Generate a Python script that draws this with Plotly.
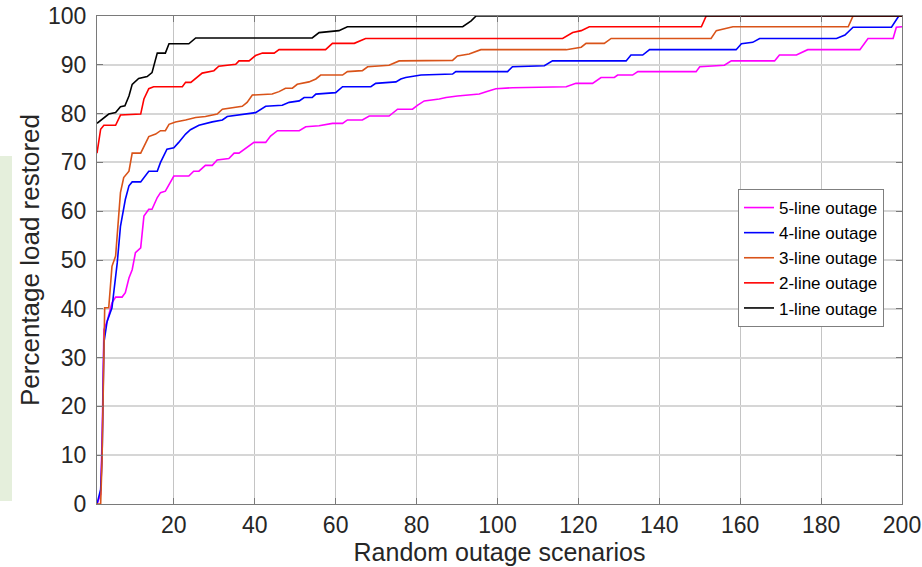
import plotly.graph_objects as go

# ---- data ----
x_5 = [1, 1.9, 2.3, 2.7, 3.5, 4.7, 5.6, 7.2, 8.0, 8.9, 9.7, 10.5, 11.8, 12.6, 13.8, 14.6, 15.9, 16.7, 17.9, 18.8,
       20.0, 23.7, 24.9, 26.2, 27.8, 29.5, 30.7, 33.6, 34.9, 36.1, 37.7, 39.8, 42.7, 43.9, 45.6, 51.0, 52.6, 55.9,
       59.2, 61.7, 62.9, 66.6, 68.3, 73.2, 75.3, 79.0, 80.2, 81.9, 85.6, 87.3, 90.1, 95.5, 97.2, 99.6, 103.7, 117.0,
       119.4, 123.5, 125.6, 128.9, 129.7, 133.4, 134.7, 149.1, 150.0, 156.1, 157.8, 168.5, 169.7, 173.9, 176.7,
       189.6, 191.6, 197.8, 198.6, 200]
y_5 = [0, 2, 15, 35.7, 37.4, 41.2, 42.4, 42.4, 43.3, 46.3, 48.0, 51.5, 52.5, 59.0, 60.4, 60.4, 62.8, 63.8, 64.1, 65.5,
       67.2, 67.2, 68.2, 68.2, 69.4, 69.4, 70.5, 70.8, 71.9, 71.9, 72.9, 74.1, 74.1, 75.4, 76.5, 76.5, 77.3, 77.5,
       78.0, 78.0, 78.7, 78.7, 79.5, 79.5, 80.9, 80.9, 81.7, 82.6, 83.0, 83.3, 83.6, 84.0, 84.5, 85.1, 85.3, 85.5,
       86.2, 86.2, 87.4, 87.4, 87.9, 87.9, 88.6, 88.6, 89.6, 89.9, 90.8, 90.8, 92.0, 92.0, 93.1,
       93.1, 95.4, 95.4, 97.7, 97.8]

x_4 = [1, 1.9, 2.1, 2.3, 2.7, 3.5, 4.7, 6.0, 6.8, 8.0, 8.9, 9.7, 11.8, 13.8, 15.9, 16.7, 18.3, 20.0, 21.2, 22.9,
       24.1, 26.2, 29.5, 32.0, 33.2, 38.6, 40.2, 42.7, 46.8, 48.5, 51.0, 52.2, 54.2, 55.1, 60.0, 61.7, 68.7, 69.9,
       74.9, 76.1, 77.3, 81.1, 88.9, 89.7, 102.5, 103.7, 111.6, 113.6, 131.8, 133.0, 135.9, 137.6, 159.0, 160.3,
       163.1, 164.8, 183.8, 185.9, 187.9, 197.4, 198.6, 199.2, 200]
y_4 = [0, 3.0, 6.6, 11.8, 33.0, 37.4, 40.2, 49.4, 56.9, 62.4, 65.2, 66.0, 66.0, 68.2, 68.2, 70.0, 72.7, 73.0, 74.1, 75.8,
       76.7, 77.6, 78.3, 78.7, 79.4, 79.9, 80.2, 81.5, 81.7, 82.3, 82.6, 83.3, 83.3, 84.0, 84.3, 85.5, 85.5, 86.2,
       86.5, 87.1, 87.4, 87.9, 88.1, 88.6, 88.6, 89.6, 89.8, 90.8, 90.8, 92.0, 92.0, 93.1, 93.1, 94.3,
       94.6, 95.4, 95.4, 96.1, 97.7, 97.7, 99.4, 100, 100]

x_3 = [1, 1.9, 2.25, 2.7, 2.9, 3.9, 4.7, 5.6, 6.8, 7.6, 8.9, 9.7, 11.8, 13.8, 15.5, 16.7, 17.9, 18.8, 20.4, 22.9,
       25.4, 27.8, 30.7, 32.0, 36.9, 38.1, 39.4, 44.3, 46.0, 47.6, 49.3, 50.5, 53.4, 55.1, 56.3, 61.7, 62.9, 66.6,
       67.9, 73.2, 75.7, 88.9, 90.1, 93.0, 95.9, 117.0, 120.7, 121.9, 126.4, 128.1, 152.8, 154.1, 156.6, 158.2,
       186.7, 187.9, 200]
y_3 = [0, 0, 9.0, 28.2, 40.2, 40.2, 48.7, 50.8, 63.8, 66.9, 68.2, 71.9, 71.9, 75.3, 75.8, 76.5, 76.5, 77.8, 78.3, 78.7,
       79.2, 79.4, 79.9, 80.9, 81.5, 82.3, 83.8, 84.0, 84.5, 85.2, 85.2, 86.0, 86.5, 87.1, 87.9, 87.9, 88.6, 88.8,
       89.6, 89.9, 90.8, 90.9, 91.8, 92.2, 93.1, 93.1, 93.6, 94.4, 94.4, 95.4, 95.4, 97.0, 97.5, 97.8,
       97.8, 100, 100]

x_2 = [1, 1.9, 2.7, 5.6, 6.8, 11.8, 12.6, 13.8, 15.0, 22.1, 22.9, 24.2, 27.0, 29.9, 31.1, 35.3, 36.1, 38.6, 40.2,
       41.9, 44.8, 46.0, 57.5, 59.2, 64.6, 65.8, 67.4, 116.1, 118.6, 120.7, 122.7, 150.4, 151.6, 200]
y_2 = [71.9, 76.8, 77.6, 77.6, 79.7, 79.9, 83.0, 85.1, 85.5, 85.5, 86.4, 86.4, 88.3, 88.8, 89.7, 90.1, 90.8, 90.8, 91.9,
       92.4, 92.4, 93.1, 93.1, 94.4, 94.4, 94.9, 95.4, 95.4, 96.6, 97.0, 97.8, 97.8, 100, 100]

x_1 = [1, 2.3, 3.9, 5.6, 6.8, 7.9, 8.9, 9.7, 11.3, 13.4, 14.6, 15.9, 17.9, 18.8, 23.7, 25.4, 54.2, 55.9, 60.8, 62.9,
       91.4, 93.5, 94.7, 200]
y_1 = [78.0, 78.8, 79.9, 80.2, 81.4, 81.6, 83.6, 86.0, 87.2, 87.6, 88.4, 92.4, 92.4, 94.3, 94.3, 95.5, 95.5, 96.6, 97.0,
       97.8, 97.8, 99.0, 100, 100]

names = ["5-line outage", "4-line outage", "3-line outage", "2-line outage", "1-line outage"]
colors = ["#ff00ff", "#0000ff", "#d95319", "#ff0000", "#000000"]
xs = [x_5, x_4, x_3, x_2, x_1]
ys = [y_5, y_4, y_3, y_2, y_1]

x_ticks = [20, 40, 60, 80, 100, 120, 140, 160, 180, 200]
y_ticks = [0, 10, 20, 30, 40, 50, 60, 70, 80, 90, 100]

FONT = "Liberation Sans, Arial, Helvetica, sans-serif"
TXT = "#262626"

fig = go.Figure()
for n, c, xv, yv in zip(names, colors, xs, ys):
    assert len(xv) == len(yv), n
    fig.add_trace(go.Scatter(x=xv, y=yv, mode="lines", name=n,
                             line=dict(color=c, width=1.6)))

W, H = 922, 567
L, R, T, B = 97, 20, 16, 63
pw, ph = W - L - R, H - T - B

def px2paper_x(p):
    return (p - L) / pw

def px2paper_y(p):
    return (H - B - p) / ph

fig.update_layout(
    width=W, height=H,
    margin=dict(l=L, r=R, t=T, b=B, pad=0, autoexpand=False),
    paper_bgcolor="white", plot_bgcolor="white",
    font=dict(family=FONT, color=TXT, size=23),
    showlegend=True,
    legend=dict(
        x=px2paper_x(884), y=px2paper_y(189), xanchor="right", yanchor="top",
        bgcolor="white", bordercolor="#7f7f7f", borderwidth=1,
        font=dict(size=17, color="#000000", family=FONT),
        tracegroupgap=0, itemwidth=30,
    ),
    shapes=[dict(type="rect", xref="paper", yref="paper",
                 x0=px2paper_x(0), x1=px2paper_x(12),
                 y0=px2paper_y(501), y1=px2paper_y(156),
                 fillcolor="#e5efdc", line=dict(width=0), layer="below")],
)

fig.update_xaxes(
    range=[1, 200], tickvals=x_ticks, ticktext=[str(v) for v in x_ticks],
    showgrid=True, gridcolor="#c4c4c4", gridwidth=1,
    showline=True, linecolor="#7a7a7a", linewidth=1.2, mirror="ticks",
    ticks="inside", ticklen=6, tickcolor="#7a7a7a",
    tickfont=dict(size=23, color=TXT), ticklabelstandoff=0,
    zeroline=False, automargin=False,
    title=dict(text="Random outage scenarios", font=dict(size=25, color=TXT), standoff=1),
)
fig.update_yaxes(
    range=[0, 100], tickvals=y_ticks, ticktext=[str(v) for v in y_ticks],
    showgrid=True, gridcolor="#d6d6d6", gridwidth=1.5,
    showline=True, linecolor="#7a7a7a", linewidth=1.2, mirror="ticks",
    ticks="inside", ticklen=6, tickcolor="#7a7a7a",
    tickfont=dict(size=23, color=TXT), ticklabelstandoff=5,
    zeroline=False, automargin=False,
    title=dict(text="Percentage load restored", font=dict(size=26, color=TXT), standoff=0),
)

fig.write_html("out.html")
